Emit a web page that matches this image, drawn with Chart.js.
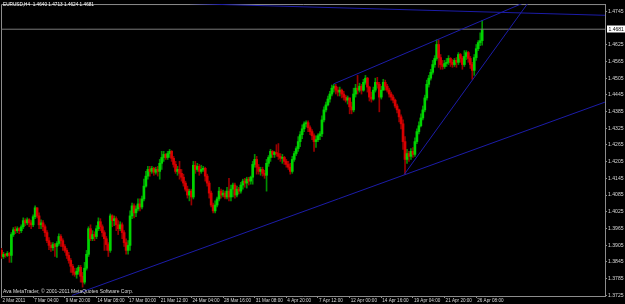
<!DOCTYPE html>
<html lang="en">
<head>
<meta charset="UTF-8">
<title>EURUSD,H4</title>
<script src="https://cdn.jsdelivr.net/npm/chart.js"></script>
<style>
  html, body { margin: 0; padding: 0; background: #000; }
  #wrap { position: relative; width: 625px; height: 304px; overflow: hidden; }
  .txt { position: absolute; font-family: 'Liberation Sans', Arial, sans-serif; line-height: 1; white-space: pre; }
</style>
</head>
<body>
<div id="wrap">
  <canvas id="chart" width="625" height="304"></canvas>
  <div class="txt" style="left:3px; top:3px; font-size:4.7px; color:#fff;">EURUSD,H4  1.4640 1.4713 1.4624 1.4681</div>
  <div class="txt" style="left:3px; top:289px; font-size:5px; color:#ddd;">Ava MetaTrader, © 2001-2011 MetaQuotes Software Corp.</div>
</div>
<script>
// time axis labels, one every 16 H4 bars
const xTickLabels = ['2 Mar 2011', '7 Mar 04:00', '9 Mar 20:00', '14 Mar 08:00', '17 Mar 00:00', '21 Mar 12:00',
  '24 Mar 04:00', '28 Mar 16:00', '31 Mar 08:00', '4 Apr 20:00', '7 Apr 12:00', '12 Apr 00:00',
  '14 Apr 16:00', '19 Apr 04:00', '21 Apr 20:00', '26 Apr 08:00'];
const xTickBars = [0, 16, 32, 48, 64, 80, 96, 112, 128, 144, 160, 176, 192, 208, 224, 240];

// price axis labels (1.4685 is hidden under the bid label)
const yTicks = [1.3725, 1.3785, 1.3845, 1.3905, 1.3965, 1.4025, 1.4085, 1.4145, 1.4205,
  1.4265, 1.4325, 1.4385, 1.4445, 1.4505, 1.4565, 1.4625, 1.4745];

// EURUSD H4 bars
const firstOpen = 1.3886;
const closes = [
  1.3864, 1.3872, 1.3868, 1.3875, 1.3868, 1.3943, 1.3960, 1.3957, 1.3964, 1.3957,
  1.3971, 1.3993, 1.3985, 1.3996, 1.3985, 1.3978, 1.4007, 1.4039, 1.4010, 1.3978,
  1.3985, 1.3971, 1.3950, 1.3921, 1.3904, 1.3896, 1.3907, 1.3900, 1.3911, 1.3936,
  1.3921, 1.3900, 1.3886, 1.3868, 1.3850, 1.3829, 1.3807, 1.3800, 1.3811, 1.3825,
  1.3793, 1.3772, 1.3822, 1.3872, 1.3964, 1.3928, 1.3943, 1.3936, 1.3964, 1.3989,
  1.3971, 1.3950, 1.3928, 1.3907, 1.3886, 1.4010, 1.3993, 1.4000, 1.3978, 1.3964,
  1.3978, 1.3950, 1.3914, 1.3886, 1.3904, 1.4010, 1.4046, 1.4021, 1.4035, 1.4053,
  1.4042, 1.4071, 1.4117, 1.4153, 1.4177, 1.4170, 1.4181, 1.4167, 1.4177, 1.4170,
  1.4199, 1.4220, 1.4231, 1.4220, 1.4234, 1.4242, 1.4217, 1.4195, 1.4170, 1.4177,
  1.4163, 1.4149, 1.4128, 1.4106, 1.4085, 1.4099, 1.4078, 1.4192, 1.4177, 1.4188,
  1.4170, 1.4177, 1.4181, 1.4153, 1.4128, 1.4092, 1.4049, 1.4028, 1.4049, 1.4071,
  1.4099, 1.4085, 1.4092, 1.4078, 1.4099, 1.4078, 1.4106, 1.4121, 1.4085, 1.4106,
  1.4099, 1.4121, 1.4135, 1.4128, 1.4142, 1.4135, 1.4149, 1.4195, 1.4213, 1.4185,
  1.4170, 1.4177, 1.4163, 1.4156, 1.4199, 1.4220, 1.4242, 1.4231, 1.4238, 1.4234,
  1.4224, 1.4217, 1.4220, 1.4206, 1.4195, 1.4185, 1.4170, 1.4213, 1.4234, 1.4252,
  1.4277, 1.4302, 1.4323, 1.4341, 1.4345, 1.4327, 1.4313, 1.4298, 1.4277, 1.4284,
  1.4298, 1.4305, 1.4355, 1.4391, 1.4409, 1.4430, 1.4448, 1.4469, 1.4476, 1.4462,
  1.4455, 1.4462, 1.4448, 1.4437, 1.4426, 1.4434, 1.4402, 1.4391, 1.4448, 1.4469,
  1.4462, 1.4476, 1.4462, 1.4490, 1.4505, 1.4473, 1.4437, 1.4430, 1.4462, 1.4490,
  1.4483, 1.4437, 1.4462, 1.4490, 1.4476, 1.4462, 1.4448, 1.4437, 1.4426, 1.4405,
  1.4391, 1.4366, 1.4341, 1.4277, 1.4213, 1.4234, 1.4224, 1.4242, 1.4231, 1.4277,
  1.4313, 1.4334, 1.4362, 1.4391, 1.4434, 1.4483, 1.4505, 1.4526, 1.4554, 1.4576,
  1.4626, 1.4579, 1.4554, 1.4547, 1.4558, 1.4562, 1.4576, 1.4562, 1.4554, 1.4569,
  1.4562, 1.4590, 1.4576, 1.4554, 1.4583, 1.4597, 1.4576, 1.4554, 1.4533, 1.4579,
  1.4611, 1.4633, 1.4640, 1.4681
];
const highs = [
  1.3893, 1.3879, 1.3875, 1.3882, 1.3879, 1.3950, 1.3968, 1.3971, 1.3971, 1.3968,
  1.3978, 1.4003, 1.4000, 1.4003, 1.4000, 1.3993, 1.4014, 1.4046, 1.4039, 1.4021,
  1.3996, 1.3993, 1.3978, 1.3957, 1.3932, 1.3914, 1.3914, 1.3911, 1.3918, 1.3946,
  1.3943, 1.3928, 1.3907, 1.3893, 1.3879, 1.3857, 1.3836, 1.3822, 1.3822, 1.3832,
  1.3832, 1.3807, 1.3843, 1.3886, 1.3971, 1.3978, 1.3957, 1.3953, 1.3975, 1.4003,
  1.4000, 1.3978, 1.3957, 1.3936, 1.3914, 1.4017, 1.4014, 1.4010, 1.4007, 1.3993,
  1.3989, 1.3985, 1.3957, 1.3928, 1.3921, 1.4028, 1.4056, 1.4053, 1.4046, 1.4071,
  1.4071, 1.4081, 1.4142, 1.4170, 1.4188, 1.4188, 1.4188, 1.4185, 1.4185, 1.4188,
  1.4213, 1.4242, 1.4242, 1.4234, 1.4242, 1.4249, 1.4245, 1.4224, 1.4206, 1.4188,
  1.4206, 1.4177, 1.4160, 1.4135, 1.4117, 1.4106, 1.4106, 1.4206, 1.4206, 1.4199,
  1.4195, 1.4192, 1.4188, 1.4185, 1.4160, 1.4135, 1.4099, 1.4056, 1.4064, 1.4078,
  1.4113, 1.4106, 1.4103, 1.4099, 1.4113, 1.4145, 1.4121, 1.4128, 1.4128, 1.4117,
  1.4113, 1.4131, 1.4142, 1.4145, 1.4149, 1.4149, 1.4153, 1.4206, 1.4231, 1.4224,
  1.4195, 1.4185, 1.4185, 1.4174, 1.4213, 1.4227, 1.4249, 1.4245, 1.4242, 1.4266,
  1.4270, 1.4234, 1.4231, 1.4224, 1.4213, 1.4206, 1.4199, 1.4224, 1.4242, 1.4259,
  1.4295, 1.4313, 1.4337, 1.4348, 1.4352, 1.4352, 1.4334, 1.4320, 1.4305, 1.4298,
  1.4305, 1.4313, 1.4370, 1.4402, 1.4419, 1.4441, 1.4458, 1.4480, 1.4483, 1.4483,
  1.4473, 1.4473, 1.4466, 1.4458, 1.4444, 1.4441, 1.4434, 1.4419, 1.4469, 1.4483,
  1.4515, 1.4487, 1.4483, 1.4501, 1.4515, 1.4508, 1.4476, 1.4455, 1.4473, 1.4505,
  1.4508, 1.4490, 1.4476, 1.4501, 1.4498, 1.4483, 1.4469, 1.4455, 1.4444, 1.4430,
  1.4412, 1.4394, 1.4373, 1.4355, 1.4295, 1.4249, 1.4242, 1.4252, 1.4256, 1.4291,
  1.4323, 1.4348, 1.4377, 1.4405, 1.4444, 1.4498, 1.4515, 1.4537, 1.4569, 1.4586,
  1.4643, 1.4643, 1.4590, 1.4569, 1.4569, 1.4576, 1.4586, 1.4579, 1.4572, 1.4576,
  1.4579, 1.4597, 1.4594, 1.4583, 1.4604, 1.4604, 1.4601, 1.4583, 1.4562, 1.4590,
  1.4626, 1.4640, 1.4668, 1.4713
];
const lows = [
  1.3857, 1.3857, 1.3861, 1.3864, 1.3843, 1.3843, 1.3936, 1.3946, 1.3950, 1.3946,
  1.3950, 1.3964, 1.3975, 1.3978, 1.3971, 1.3964, 1.3971, 1.4000, 1.4003, 1.3964,
  1.3964, 1.3957, 1.3936, 1.3914, 1.3889, 1.3882, 1.3886, 1.3864, 1.3861, 1.3904,
  1.3900, 1.3886, 1.3879, 1.3857, 1.3840, 1.3807, 1.3797, 1.3793, 1.3786, 1.3800,
  1.3772, 1.3754, 1.3765, 1.3815, 1.3864, 1.3921, 1.3921, 1.3921, 1.3928, 1.3957,
  1.3957, 1.3936, 1.3886, 1.3886, 1.3864, 1.3879, 1.3971, 1.3975, 1.3957, 1.3943,
  1.3957, 1.3928, 1.3900, 1.3872, 1.3872, 1.3886, 1.4000, 1.4003, 1.4007, 1.4028,
  1.4028, 1.4035, 1.4064, 1.4113, 1.4142, 1.4153, 1.4163, 1.4156, 1.4160, 1.4153,
  1.4142, 1.4177, 1.4206, 1.4213, 1.4213, 1.4220, 1.4206, 1.4185, 1.4163, 1.4156,
  1.4142, 1.4135, 1.4117, 1.4099, 1.4074, 1.4064, 1.4049, 1.4071, 1.4163, 1.4170,
  1.4156, 1.4163, 1.4170, 1.4135, 1.4117, 1.4074, 1.4042, 1.4021, 1.4021, 1.4042,
  1.4064, 1.4074, 1.4078, 1.4071, 1.4071, 1.4064, 1.4064, 1.4078, 1.4074, 1.4078,
  1.4089, 1.4092, 1.4106, 1.4113, 1.4110, 1.4121, 1.4124, 1.4124, 1.4185, 1.4160,
  1.4160, 1.4156, 1.4153, 1.4145, 1.4099, 1.4188, 1.4206, 1.4220, 1.4220, 1.4224,
  1.4213, 1.4206, 1.4199, 1.4195, 1.4185, 1.4177, 1.4160, 1.4163, 1.4206, 1.4227,
  1.4242, 1.4259, 1.4288, 1.4313, 1.4330, 1.4313, 1.4302, 1.4284, 1.4242, 1.4256,
  1.4277, 1.4284, 1.4295, 1.4348, 1.4384, 1.4405, 1.4419, 1.4441, 1.4455, 1.4448,
  1.4441, 1.4441, 1.4434, 1.4426, 1.4419, 1.4412, 1.4377, 1.4377, 1.4384, 1.4437,
  1.4448, 1.4455, 1.4448, 1.4458, 1.4483, 1.4455, 1.4423, 1.4419, 1.4426, 1.4455,
  1.4469, 1.4384, 1.4430, 1.4462, 1.4462, 1.4455, 1.4437, 1.4426, 1.4416, 1.4398,
  1.4380, 1.4348, 1.4323, 1.4249, 1.4160, 1.4199, 1.4206, 1.4213, 1.4220, 1.4224,
  1.4270, 1.4305, 1.4330, 1.4355, 1.4384, 1.4426, 1.4473, 1.4498, 1.4519, 1.4544,
  1.4569, 1.4544, 1.4537, 1.4537, 1.4540, 1.4547, 1.4554, 1.4547, 1.4544, 1.4547,
  1.4544, 1.4554, 1.4562, 1.4537, 1.4547, 1.4572, 1.4562, 1.4540, 1.4501, 1.4515,
  1.4569, 1.4604, 1.4622, 1.4624
];

// trend lines drawn on the chart: [bar, price] -> [bar, price]
const trendLines = [
  [[35.6, 1.3724], [305.1, 1.4419]],
  [[167.8, 1.4484], [275.6, 1.4811]],
  [[203.6, 1.4159], [269.8, 1.4811]],
  [[95.3, 1.4773], [305.1, 1.4731]]
];

const xMin = -0.25, xMax = 305.1;
const yMin = 1.37221, yMax = 1.47714;

// each H4 bar opens where the previous one closed
const opens = closes.map((c, i) => i === 0 ? firstOpen : closes[i - 1]);
const up = closes.map((c, i) => c >= opens[i]);
const lastClose = closes[closes.length - 1];

Chart.defaults.font.family = "'Liberation Sans', Arial, sans-serif";
Chart.defaults.font.size = 5;
Chart.defaults.color = '#d8d8d8';

const datasets = trendLines.map(l => ({
  type: 'line',
  data: l.map(p => ({ x: p[0], y: p[1] })),
  borderColor: '#1c1ca8',
  borderWidth: 1,
  pointRadius: 0,
  fill: false,
  order: 0
}));

datasets.push({
  type: 'line',
  data: [{ x: xMin, y: lastClose }, { x: xMax, y: lastClose }],
  borderColor: '#7a7a7a',
  borderWidth: 1,
  pointRadius: 0,
  fill: false,
  order: 1
});

datasets.push({
  type: 'bar',
  data: closes.map((c, i) => ({ x: i, y: [opens[i], c] })),
  backgroundColor: up.map(u => u ? '#00d400' : '#d80000'),
  barThickness: 2,
  minBarLength: 1,
  grouped: false,
  order: 2
});

datasets.push({
  type: 'bar',
  data: highs.map((h, i) => ({ x: i, y: [lows[i], h] })),
  backgroundColor: up.map(u => u ? '#009000' : '#980000'),
  barThickness: 1,
  grouped: false,
  order: 3
});

const framePlugin = {
  id: 'frame',
  beforeDatasetsDraw(chart) {
    const { ctx, chartArea: a } = chart;
    ctx.save();
    ctx.strokeStyle = '#8c8c8c';
    ctx.lineWidth = 1;
    ctx.beginPath();
    ctx.moveTo(a.left + 0.5, a.bottom);
    ctx.lineTo(a.left + 0.5, a.top + 0.5);
    ctx.lineTo(a.right, a.top + 0.5);
    ctx.stroke();
    ctx.restore();
  },
  afterDraw(chart) {
    // bid price label on the right axis
    const { ctx } = chart;
    const y = chart.scales.y;
    const py = Math.round(y.getPixelForValue(lastClose));
    ctx.save();
    ctx.fillStyle = '#ffffff';
    ctx.fillRect(y.left + 2, py - 3.5, 18, 7);
    ctx.fillStyle = '#000000';
    ctx.font = "5px 'Liberation Sans', Arial, sans-serif";
    ctx.textBaseline = 'middle';
    ctx.fillText(lastClose.toFixed(4), y.left + 3.5, py + 0.5);
    ctx.restore();
  }
};

new Chart(document.getElementById('chart').getContext('2d'), {
  type: 'bar',
  data: { datasets: datasets },
  options: {
    responsive: false,
    animation: false,
    layout: { padding: { left: 1, top: 1, right: 0, bottom: 0 } },
    plugins: { legend: { display: false }, tooltip: { enabled: false } },
    scales: {
      x: {
        type: 'linear',
        min: xMin,
        max: xMax,
        offset: false,
        afterFit: s => { s.height = 8; },
        afterBuildTicks: s => { s.ticks = xTickBars.map(v => ({ value: v })); },
        ticks: {
          autoSkip: false,
          maxRotation: 0,
          align: 'start',
          padding: 0,
          labelOffset: 1,
          color: '#d8d8d8',
          font: { size: 4.6 },
          callback: (v, i) => xTickLabels[i]
        },
        grid: { drawOnChartArea: false, drawTicks: true, tickLength: 2, color: '#8c8c8c', offset: false },
        border: { display: true, color: '#8c8c8c' }
      },
      y: {
        position: 'right',
        min: yMin,
        max: yMax,
        afterFit: s => { s.width = 20; },
        afterBuildTicks: s => { s.ticks = yTicks.map(v => ({ value: v })); },
        ticks: {
          autoSkip: false,
          padding: 1,
          color: '#d8d8d8',
          font: { size: 5.1 },
          callback: v => v.toFixed(4)
        },
        grid: { drawOnChartArea: false, drawTicks: true, tickLength: 2, color: '#8c8c8c' },
        border: { display: true, color: '#8c8c8c' }
      }
    }
  },
  plugins: [framePlugin]
});
</script>
</body>
</html>
